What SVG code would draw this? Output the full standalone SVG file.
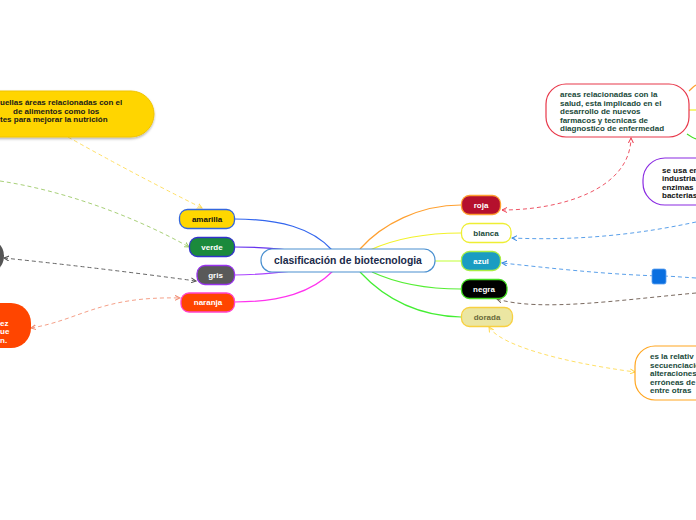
<svg xmlns="http://www.w3.org/2000/svg" width="696" height="520" viewBox="0 0 696 520">
<style>
text{font-family:"Liberation Sans",Arial,sans-serif;font-weight:bold;font-size:8px}
.lbl{text-anchor:middle;dominant-baseline:central}
.node{stroke-width:1.3}
.conn{fill:none;stroke-width:1.2}
.dash{fill:none;stroke-width:1;stroke-dasharray:4 3}
.box{fill:#fff;stroke-width:1.2}
.dk{fill:#1a4a3a}
</style>
<defs>
<marker id="mY" viewBox="0 0 6 6" refX="5" refY="3" markerWidth="6" markerHeight="6" orient="auto-start-reverse" markerUnits="userSpaceOnUse"><path d="M0,0.5 L5,3 L0,5.5" fill="none" stroke="#ffd84a" stroke-width="1"/></marker>
<marker id="mG" viewBox="0 0 6 6" refX="5" refY="3" markerWidth="6" markerHeight="6" orient="auto-start-reverse" markerUnits="userSpaceOnUse"><path d="M0,0.5 L5,3 L0,5.5" fill="none" stroke="#9ccc66" stroke-width="1"/></marker>
<marker id="mK" viewBox="0 0 6 6" refX="5" refY="3" markerWidth="6" markerHeight="6" orient="auto-start-reverse" markerUnits="userSpaceOnUse"><path d="M0,0.5 L5,3 L0,5.5" fill="none" stroke="#555" stroke-width="1"/></marker>
<marker id="mS" viewBox="0 0 6 6" refX="5" refY="3" markerWidth="6" markerHeight="6" orient="auto-start-reverse" markerUnits="userSpaceOnUse"><path d="M0,0.5 L5,3 L0,5.5" fill="none" stroke="#f08a70" stroke-width="1"/></marker>
<marker id="mR" viewBox="0 0 6 6" refX="5" refY="3" markerWidth="6" markerHeight="6" orient="auto-start-reverse" markerUnits="userSpaceOnUse"><path d="M0,0.5 L5,3 L0,5.5" fill="none" stroke="#ee4455" stroke-width="1"/></marker>
<marker id="mB" viewBox="0 0 6 6" refX="5" refY="3" markerWidth="6" markerHeight="6" orient="auto-start-reverse" markerUnits="userSpaceOnUse"><path d="M0,0.5 L5,3 L0,5.5" fill="none" stroke="#3a8ae0" stroke-width="1"/></marker>
<marker id="mN" viewBox="0 0 6 6" refX="5" refY="3" markerWidth="6" markerHeight="6" orient="auto-start-reverse" markerUnits="userSpaceOnUse"><path d="M0,0.5 L5,3 L0,5.5" fill="none" stroke="#6b5a50" stroke-width="1"/></marker>
<filter id="sh" x="-10%" y="-20%" width="120%" height="150%"><feDropShadow dx="0" dy="1.5" stdDeviation="1.2" flood-color="#000" flood-opacity="0.3"/></filter>
</defs>

<g id="connectors">
<path class="conn" stroke="#3366ee" d="M234,219 C280,219 312,228 332,250"/>
<path class="conn" stroke="#6633ee" d="M234,247 C262,247 282,248 300,252"/>
<path class="conn" stroke="#aa44ff" d="M234,275 C262,275 282,272 300,270"/>
<path class="conn" stroke="#ff33ee" d="M234,302 C282,302 312,292 333,271"/>
<path class="conn" stroke="#ffa030" d="M360,249 C382,224 420,205 461,205"/>
<path class="conn" stroke="#f2f22a" d="M370,250 C392,240 422,233 461,233"/>
<path class="conn" stroke="#ccff55" d="M435,261 L461,261"/>
<path class="conn" stroke="#55ee33" d="M372,272 C400,285 430,289 461,289"/>
<path class="conn" stroke="#44ee33" d="M360,272 C386,300 420,316 461,317"/>
<path class="conn" stroke="#ffa030" d="M689,91 C692,88 694,86 696,85"/>
<path class="conn" stroke="#eeee22" d="M689,110 L696,110"/>
<path class="conn" stroke="#44dd22" d="M687,134 C690,136 693,138 696,139"/>

<path class="dash" stroke="#ffe066" marker-end="url(#mY)" d="M68,137 Q130,172 202,208"/>
<path class="dash" stroke="#a8d078" marker-end="url(#mG)" d="M0,181 C60,190 130,214 189,247"/>
<path class="dash" stroke="#666" marker-start="url(#mK)" marker-end="url(#mK)" d="M4,258 Q100,268 196,281"/>
<path class="dash" stroke="#f5a088" marker-start="url(#mS)" marker-end="url(#mS)" d="M31,328 C80,320 100,296 180,298"/>
<path class="dash" stroke="#ee5566" marker-start="url(#mR)" marker-end="url(#mR)" d="M502,210 C560,210 630,190 631,138"/>
<path class="dash" stroke="#5aa0ea" marker-end="url(#mB)" d="M696,222 C640,234 580,241 512,238"/>
<path class="dash" stroke="#5aa0ea" marker-end="url(#mB)" d="M696,278 C680,277 670,276 659,276 C600,274 550,268 502,263"/>
<path class="dash" stroke="#7a6a60" marker-end="url(#mN)" d="M696,293 C620,300 540,312 497,299"/>
<path class="dash" stroke="#ffe066" marker-start="url(#mY)" marker-end="url(#mY)" d="M489,327 C500,345 560,362 635,372"/>
</g>

<g id="node-azul-square"><rect x="652" y="269" width="14" height="15" rx="2" fill="#0a6fe0" stroke="#5aa0f0" stroke-width="0.8"/></g>

<g id="node-top-left">
<rect x="-60" y="91" width="214" height="46" rx="23" fill="#ffd500" stroke="#f0c400" filter="url(#sh)"/>
<text x="0" y="105" fill="#1a1a1a">uellas áreas relacionadas con el</text>
<text x="13" y="113.5" fill="#1a1a1a">de alimentos como los</text>
<text x="0" y="122" fill="#1a1a1a">tes para mejorar la nutrición</text>
</g>

<g id="node-left-gris"><rect x="-36" y="238" width="40" height="36" rx="18" fill="#555"/></g>

<g id="node-left-naranja">
<rect x="-60" y="303" width="91" height="45" rx="20" fill="#ff4500"/>
<text x="0" y="325.5" fill="#fff">ez</text>
<text x="0" y="334" fill="#fff">ue</text>
<text x="0" y="342.5" fill="#fff">n.</text>
</g>

<g id="node-center">
<rect x="261" y="249" width="174" height="23" rx="11" fill="#fff" stroke="#4a90d0" stroke-width="1.2"/>
<text class="lbl" x="348" y="260.5" fill="#1a2a4a" style="font-size:10.4px">clasificación de biotecnologia</text>
</g>

<g id="node-amarilla"><rect class="node" x="179.5" y="209.5" width="55" height="19" rx="8" fill="#ffd700" stroke="#3366dd"/><text class="lbl" x="207" y="219" fill="#111">amarilla</text></g>
<g id="node-verde"><rect class="node" x="189.5" y="237.5" width="45" height="19" rx="8" fill="#1b8a3c" stroke="#3333cc"/><text class="lbl" x="212" y="247" fill="#fff">verde</text></g>
<g id="node-gris"><rect class="node" x="197" y="265.5" width="37.5" height="19" rx="8" fill="#595959" stroke="#9933ee"/><text class="lbl" x="215.5" y="275" fill="#fff">gris</text></g>
<g id="node-naranja"><rect class="node" x="181" y="293" width="53.5" height="19" rx="8" fill="#ff4500" stroke="#ff44cc"/><text class="lbl" x="208" y="302.5" fill="#fff">naranja</text></g>

<g id="node-roja"><rect class="node" x="461.5" y="195.5" width="39" height="19" rx="8" fill="#b5102d" stroke="#ffa030"/><text class="lbl" x="481" y="205" fill="#fff">roja</text></g>
<g id="node-blanca"><rect class="node" x="461.5" y="223.5" width="49.5" height="19" rx="8" fill="#fff" stroke="#eeee33"/><text class="lbl" x="486" y="233" fill="#1a4a3a">blanca</text></g>
<g id="node-azul"><rect class="node" x="461.5" y="251.5" width="39" height="19" rx="8" fill="#1a9cc2" stroke="#aaee44"/><text class="lbl" x="481" y="261" fill="#fff">azul</text></g>
<g id="node-negra"><rect class="node" x="461.5" y="279.5" width="45.5" height="19" rx="8" fill="#000" stroke="#44dd22"/><text class="lbl" x="484" y="289" fill="#fff">negra</text></g>
<g id="node-dorada"><rect class="node" x="461.5" y="307.5" width="51" height="19" rx="8" fill="#ebe6a2" stroke="#f8d040"/><text class="lbl" x="487" y="317" fill="#6a6a3a">dorada</text></g>

<g id="node-roja-desc">
<rect class="box" x="546" y="84" width="143" height="53" rx="20" stroke="#e8384a"/>
<text class="dk" x="560" y="97">areas relacionadas con la</text>
<text class="dk" x="560" y="105.5">salud, esta implicado en el</text>
<text class="dk" x="560" y="114">desarrollo de nuevos</text>
<text class="dk" x="560" y="122.5">farmacos y tecnicas de</text>
<text class="dk" x="560" y="131">diagnostico de enfermedad</text>
</g>

<g id="node-blanca-desc">
<rect class="box" x="643" y="158" width="90" height="47" rx="22" stroke="#8a2be2"/>
<text x="662" y="172.5" fill="#111">se usa en</text>
<text x="662" y="181" fill="#111">industria</text>
<text x="662" y="189.5" fill="#111">enzimas</text>
<text x="662" y="198" fill="#111">bacterias</text>
</g>

<g id="node-dorada-desc">
<rect class="box" x="635" y="346" width="100" height="54" rx="20" stroke="#ffa620"/>
<text class="dk" x="650" y="359">es la relativ</text>
<text class="dk" x="650" y="367.5">secuenciacio</text>
<text class="dk" x="650" y="376">alteraciones</text>
<text class="dk" x="650" y="384.5">erróneas de</text>
<text class="dk" x="650" y="393">entre otras</text>
</g>
</svg>
